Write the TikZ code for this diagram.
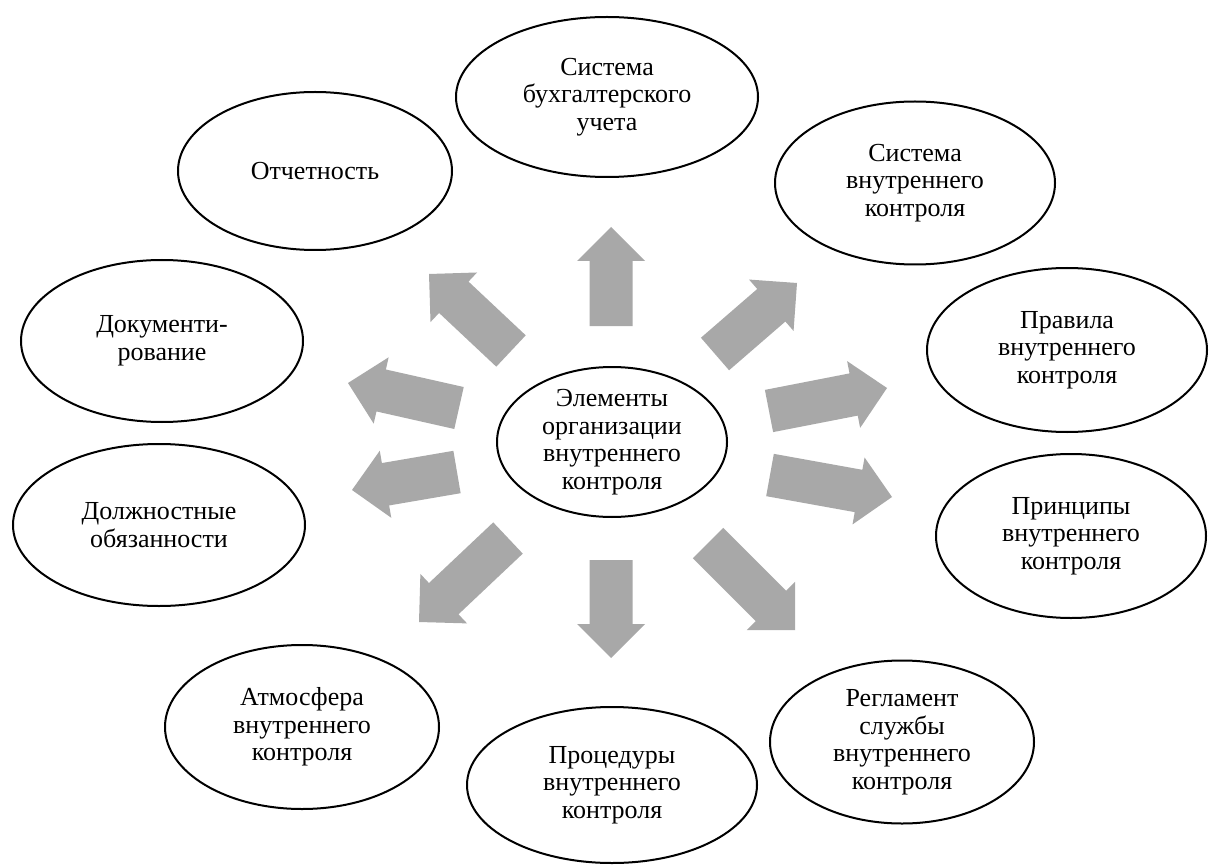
\documentclass[tikz,border=0pt]{standalone}
\usepackage{fontspec}
\setmainfont{Liberation Serif}
\usetikzlibrary{shapes.geometric,calc}
\definecolor{arrowgray}{RGB}{168,168,168}
\tikzset{
  oval/.style={ellipse, draw=black, line width=2pt, fill=white, align=center,
    inner sep=0pt, font=\fontsize{26}{27.5}\selectfont},
  arrowfill/.style={fill=arrowgray}
}
\newcommand\blockarr[3]{% #1 name, #2 tail, #3 tip
  \coordinate (#1-b) at ($(#3)!34pt!(#2)$);
  \fill[arrowfill] ($(#2)!21.5pt!90:(#3)$) -- ($(#1-b)!21.5pt!90:(#3)$)
    -- ($(#1-b)!34pt!90:(#3)$) -- (#3) -- ($(#1-b)!34pt!-90:(#3)$)
    -- ($(#1-b)!21.5pt!-90:(#3)$) -- ($(#2)!21.5pt!-90:(#3)$) -- cycle;
}
\begin{document}
\begin{tikzpicture}[x=1pt,y=-1pt]
\useasboundingbox (0,0) rectangle (1209,866);
\fill[white] (0,0) rectangle (1209,866);

% ellipses
\node[oval, minimum width=302pt, minimum height=160pt] (buh) at (607,97) {Система\\бухгалтерского\\учета};
\node[oval, minimum width=274pt, minimum height=158pt] (otch) at (315,171) {Отчетность};
\node[oval, minimum width=280pt, minimum height=163pt] (svk) at (915,183) {Система\\внутреннего\\контроля};
\node[oval, minimum width=282pt, minimum height=162pt] (doc) at (162,341) {Документи-\\рование};
\node[oval, minimum width=280pt, minimum height=164pt] (prav) at (1067,350) {Правила\\внутреннего\\контроля};
\node[oval, minimum width=230pt, minimum height=150pt] (center) at (612,442) {Элементы\\организации\\внутреннего\\контроля};
\node[oval, minimum width=292pt, minimum height=162pt] (dolzh) at (159,525) {Должностные\\обязанности};
\node[oval, minimum width=270pt, minimum height=164pt] (princ) at (1071,536) {Принципы\\внутреннего\\контроля};
\node[oval, minimum width=274pt, minimum height=164pt] (atm) at (302,727) {Атмосфера\\внутреннего\\контроля};
\node[oval, minimum width=290pt, minimum height=156pt] (proc) at (612,785) {Процедуры\\внутреннего\\контроля};
\node[oval, minimum width=264pt, minimum height=163pt] (regl) at (902,742) {Регламент\\службы\\внутреннего\\контроля};

% arrow end points
\coordinate (aN-t) at (611,326);  \coordinate (aN-h) at (611,227);
\coordinate (aNW-t) at (511,351); \coordinate (aNW-h) at (429,274);
\coordinate (aNE-t) at (715,354); \coordinate (aNE-h) at (797,283);
\coordinate (aW1-t) at (459,408); \coordinate (aW1-h) at (348,383);
\coordinate (aW2-t) at (457,472); \coordinate (aW2-h) at (352,490);
\coordinate (aE1-t) at (769,411); \coordinate (aE1-h) at (887,388);
\coordinate (aE2-t) at (770,475); \coordinate (aE2-h) at (892,497);
\coordinate (aSW-t) at (508,538); \coordinate (aSW-h) at (419,622);
\coordinate (aS-t) at (611,560);  \coordinate (aS-h) at (611,658);
\coordinate (aSE-t) at (708,543); \coordinate (aSE-h) at (795,630);

\blockarr{aN}{aN-t}{aN-h}
\blockarr{aNW}{aNW-t}{aNW-h}
\blockarr{aNE}{aNE-t}{aNE-h}
\blockarr{aW1}{aW1-t}{aW1-h}
\blockarr{aW2}{aW2-t}{aW2-h}
\blockarr{aE1}{aE1-t}{aE1-h}
\blockarr{aE2}{aE2-t}{aE2-h}
\blockarr{aSW}{aSW-t}{aSW-h}
\blockarr{aS}{aS-t}{aS-h}
\blockarr{aSE}{aSE-t}{aSE-h}
\end{tikzpicture}
\end{document}
